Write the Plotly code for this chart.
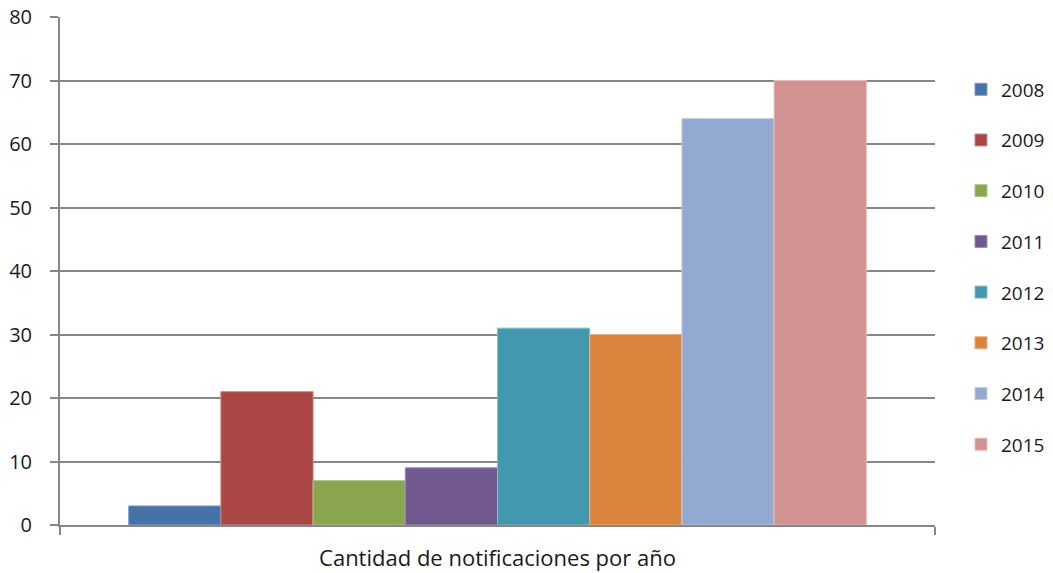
import plotly.graph_objects as go

years = ["2008", "2009", "2010", "2011", "2012", "2013", "2014", "2015"]
values = [3, 21, 7, 9, 31, 30, 64, 70]
colors = ["#4572A7", "#AA4643", "#89A54E", "#71588F", "#4198AF", "#DB843D", "#93A9CF", "#D19392"]
line_colors = ["#7E9CC4", "#C78A88", "#B0C78D", "#9C8AB3", "#86BCCB", "#E9AE7E", "#BFCDE4", "#E4BDBC"]
category = ["Cantidad de notificaciones por año"]

fig = go.Figure()
for y, v, c, lc in zip(years, values, colors, line_colors):
    fig.add_trace(go.Bar(
        x=category, y=[v], name=y, legendgroup=y,
        marker=dict(color=c, line=dict(color=lc, width=1)),
    ))

font_family = "Open Sans, Liberation Sans, sans-serif"
fig.update_layout(
    width=1045, height=565,
    margin=dict(l=52, r=118, t=9, b=48, autoexpand=False),
    paper_bgcolor="white", plot_bgcolor="white",
    barmode="group", bargap=0.157, bargroupgap=0,
    font=dict(family=font_family, size=20, color="#1a1a1a"),
    showlegend=True,
    legend=dict(
        x=1.0297, xanchor="left", y=0.508, yanchor="middle",
        font=dict(size=19, color="#1a1a1a"),
        tracegroupgap=23, itemwidth=30, borderwidth=0,
        bgcolor="rgba(0,0,0,0)",
    ),
    xaxis=dict(
        automargin=False,
        showline=True, linecolor="#878787", linewidth=2,
        ticks="outside", tickson="boundaries", ticklen=8, tickcolor="#878787", tickwidth=2,
        showgrid=False, tickfont=dict(size=22), ticklabelstandoff=13,
        ticklabeloverflow="allow",
    ),
    yaxis=dict(
        automargin=False,
        range=[0, 80], dtick=10, tick0=0,
        showline=True, linecolor="#878787", linewidth=2,
        ticks="outside", ticklen=8, tickcolor="#878787", tickwidth=2,
        showgrid=True, gridcolor="#878787", gridwidth=2,
        zeroline=False, tickfont=dict(size=20), ticklabelstandoff=14,
        ticklabeloverflow="allow",
    ),
)
fig.write_html("out.html")
